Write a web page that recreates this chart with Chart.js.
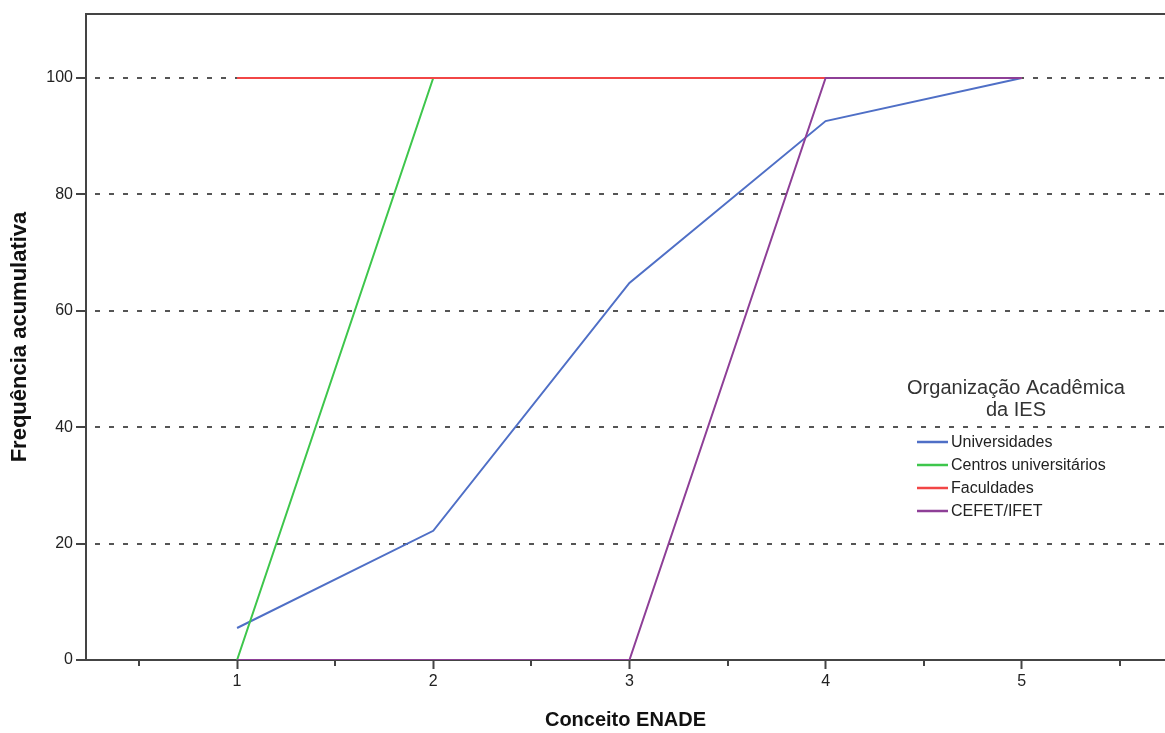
<!DOCTYPE html>
<html>
<head>
<meta charset="utf-8">
<script src="https://cdn.jsdelivr.net/npm/chart.js@4"></script>
<style>
  body{margin:0;background:#fff;}
  canvas{display:block;}
</style>
</head>
<body>
<canvas id="myChart" width="1165" height="733"></canvas>
<script>
// data
const conceitos = [1, 2, 3, 4, 5];
const universidades = [5.5, 22.2, 64.8, 92.6, 100];
const centros = [0, 100, 100, 100, 100];
const faculdades = [100, 100, 100, 100, 100];
const cefet = [0, 0, 0, 100, 100];
const seriesNames = ['Universidades', 'Centros universitários', 'Faculdades', 'CEFET/IFET'];
const seriesColors = ['#4f6fc6', '#3ec64c', '#f24646', '#8e3f97'];
const yTickValues = [0, 20, 40, 60, 80, 100];
const xTickValues = [0.5, 1, 1.5, 2, 2.5, 3, 3.5, 4, 4.5, 5, 5.5];

const FONT = "'Liberation Sans', Arial, sans-serif";
const AXIS = '#444';

function pts(vals){
  return conceitos.map((c, i) => ({x: c, y: vals[i]}));
}

// top frame line + short minor ticks + legend box
const extras = {
  id: 'extras',
  afterDraw(chart){
    const c = chart.ctx, a = chart.chartArea, xs = chart.scales.x;
    c.save();
    c.strokeStyle = AXIS;
    c.lineWidth = 2;
    c.beginPath();
    c.moveTo(a.left - 1, a.top);
    c.lineTo(a.right, a.top);
    c.stroke();
    // minor ticks at the half values
    xTickValues.filter(v => !Number.isInteger(v)).forEach(v => {
      const px = Math.round(xs.getPixelForValue(v));
      c.beginPath();
      c.moveTo(px, a.bottom);
      c.lineTo(px, a.bottom + 6);
      c.stroke();
    });

    // legend
    const lx = 1016, ly = 388;
    c.fillStyle = '#333';
    c.font = '20px ' + FONT;
    c.textAlign = 'center';
    c.textBaseline = 'middle';
    c.fillText('Organização Acadêmica', lx, ly);
    c.fillText('da IES', lx, ly + 22);
    c.font = '16px ' + FONT;
    c.textAlign = 'left';
    chart.data.datasets.forEach((ds, i) => {
      const y = 442 + i * 23;
      c.strokeStyle = ds.borderColor;
      c.lineWidth = 2.5;
      c.beginPath();
      c.moveTo(917, y);
      c.lineTo(948, y);
      c.stroke();
      c.fillStyle = '#222';
      c.fillText(ds.label, 951, y + 1);
    });
    c.restore();
  }
};

document.addEventListener('DOMContentLoaded', () => {
  const ctx = document.getElementById('myChart');
  const allSeries = [universidades, centros, faculdades, cefet];
  const drawOrder = [3, 2, 1, 0];

  const dataChart = new Chart(ctx, {
    type: 'line',
    data: {
      datasets: allSeries.map((vals, i) => ({
        label: seriesNames[i],
        data: pts(vals),
        borderColor: seriesColors[i],
        backgroundColor: seriesColors[i],
        borderWidth: 2,
        pointRadius: 0,
        tension: 0,
        order: drawOrder[i]
      }))
    },
    options: {
      responsive: false,
      animation: false,
      layout: {padding: {top: 14, right: 0, left: 0, bottom: 0}},
      plugins: {
        legend: {display: false},
        tooltip: {enabled: false}
      },
      scales: {
        x: {
          type: 'linear',
          min: 0.23,
          max: 5.73,
          afterBuildTicks: s => { s.ticks = xTickValues.map(v => ({value: v})); },
          afterFit: s => { s.height = 73; },
          ticks: {
            autoSkip: false,
            maxRotation: 0,
            padding: 3,
            color: '#222',
            font: {family: FONT, size: 16},
            callback: v => Number.isInteger(v) ? String(v) : ''
          },
          grid: {
            drawOnChartArea: false,
            tickLength: 9,
            tickWidth: 2,
            tickColor: c => Number.isInteger(c.tick && c.tick.value) ? AXIS : 'rgba(0,0,0,0)'
          },
          border: {color: AXIS, width: 2},
          title: {
            display: true,
            text: 'Conceito ENADE',
            color: '#111',
            font: {family: FONT, size: 20, weight: 'bold'},
            padding: {top: 0, bottom: 1}
          }
        },
        y: {
          min: 0,
          max: 111,
          afterBuildTicks: s => { s.ticks = yTickValues.map(v => ({value: v})); },
          afterFit: s => { s.width = 86; },
          ticks: {
            padding: 3,
            color: '#222',
            font: {family: FONT, size: 16}
          },
          grid: {
            color: c => (c.tick && c.tick.value === 0) ? 'rgba(0,0,0,0)' : '#555',
            lineWidth: 2,
            tickLength: 10,
            tickWidth: 2,
            tickColor: AXIS
          },
          border: {color: AXIS, width: 2, dash: [5, 9], dashOffset: -8},
          title: {
            display: true,
            text: 'Frequência acumulativa',
            color: '#111',
            font: {family: FONT, size: 22, weight: 'bold'},
            padding: {top: 7, bottom: 0}
          }
        }
      }
    },
    plugins: [extras]
  });
});
</script>
</body>
</html>
